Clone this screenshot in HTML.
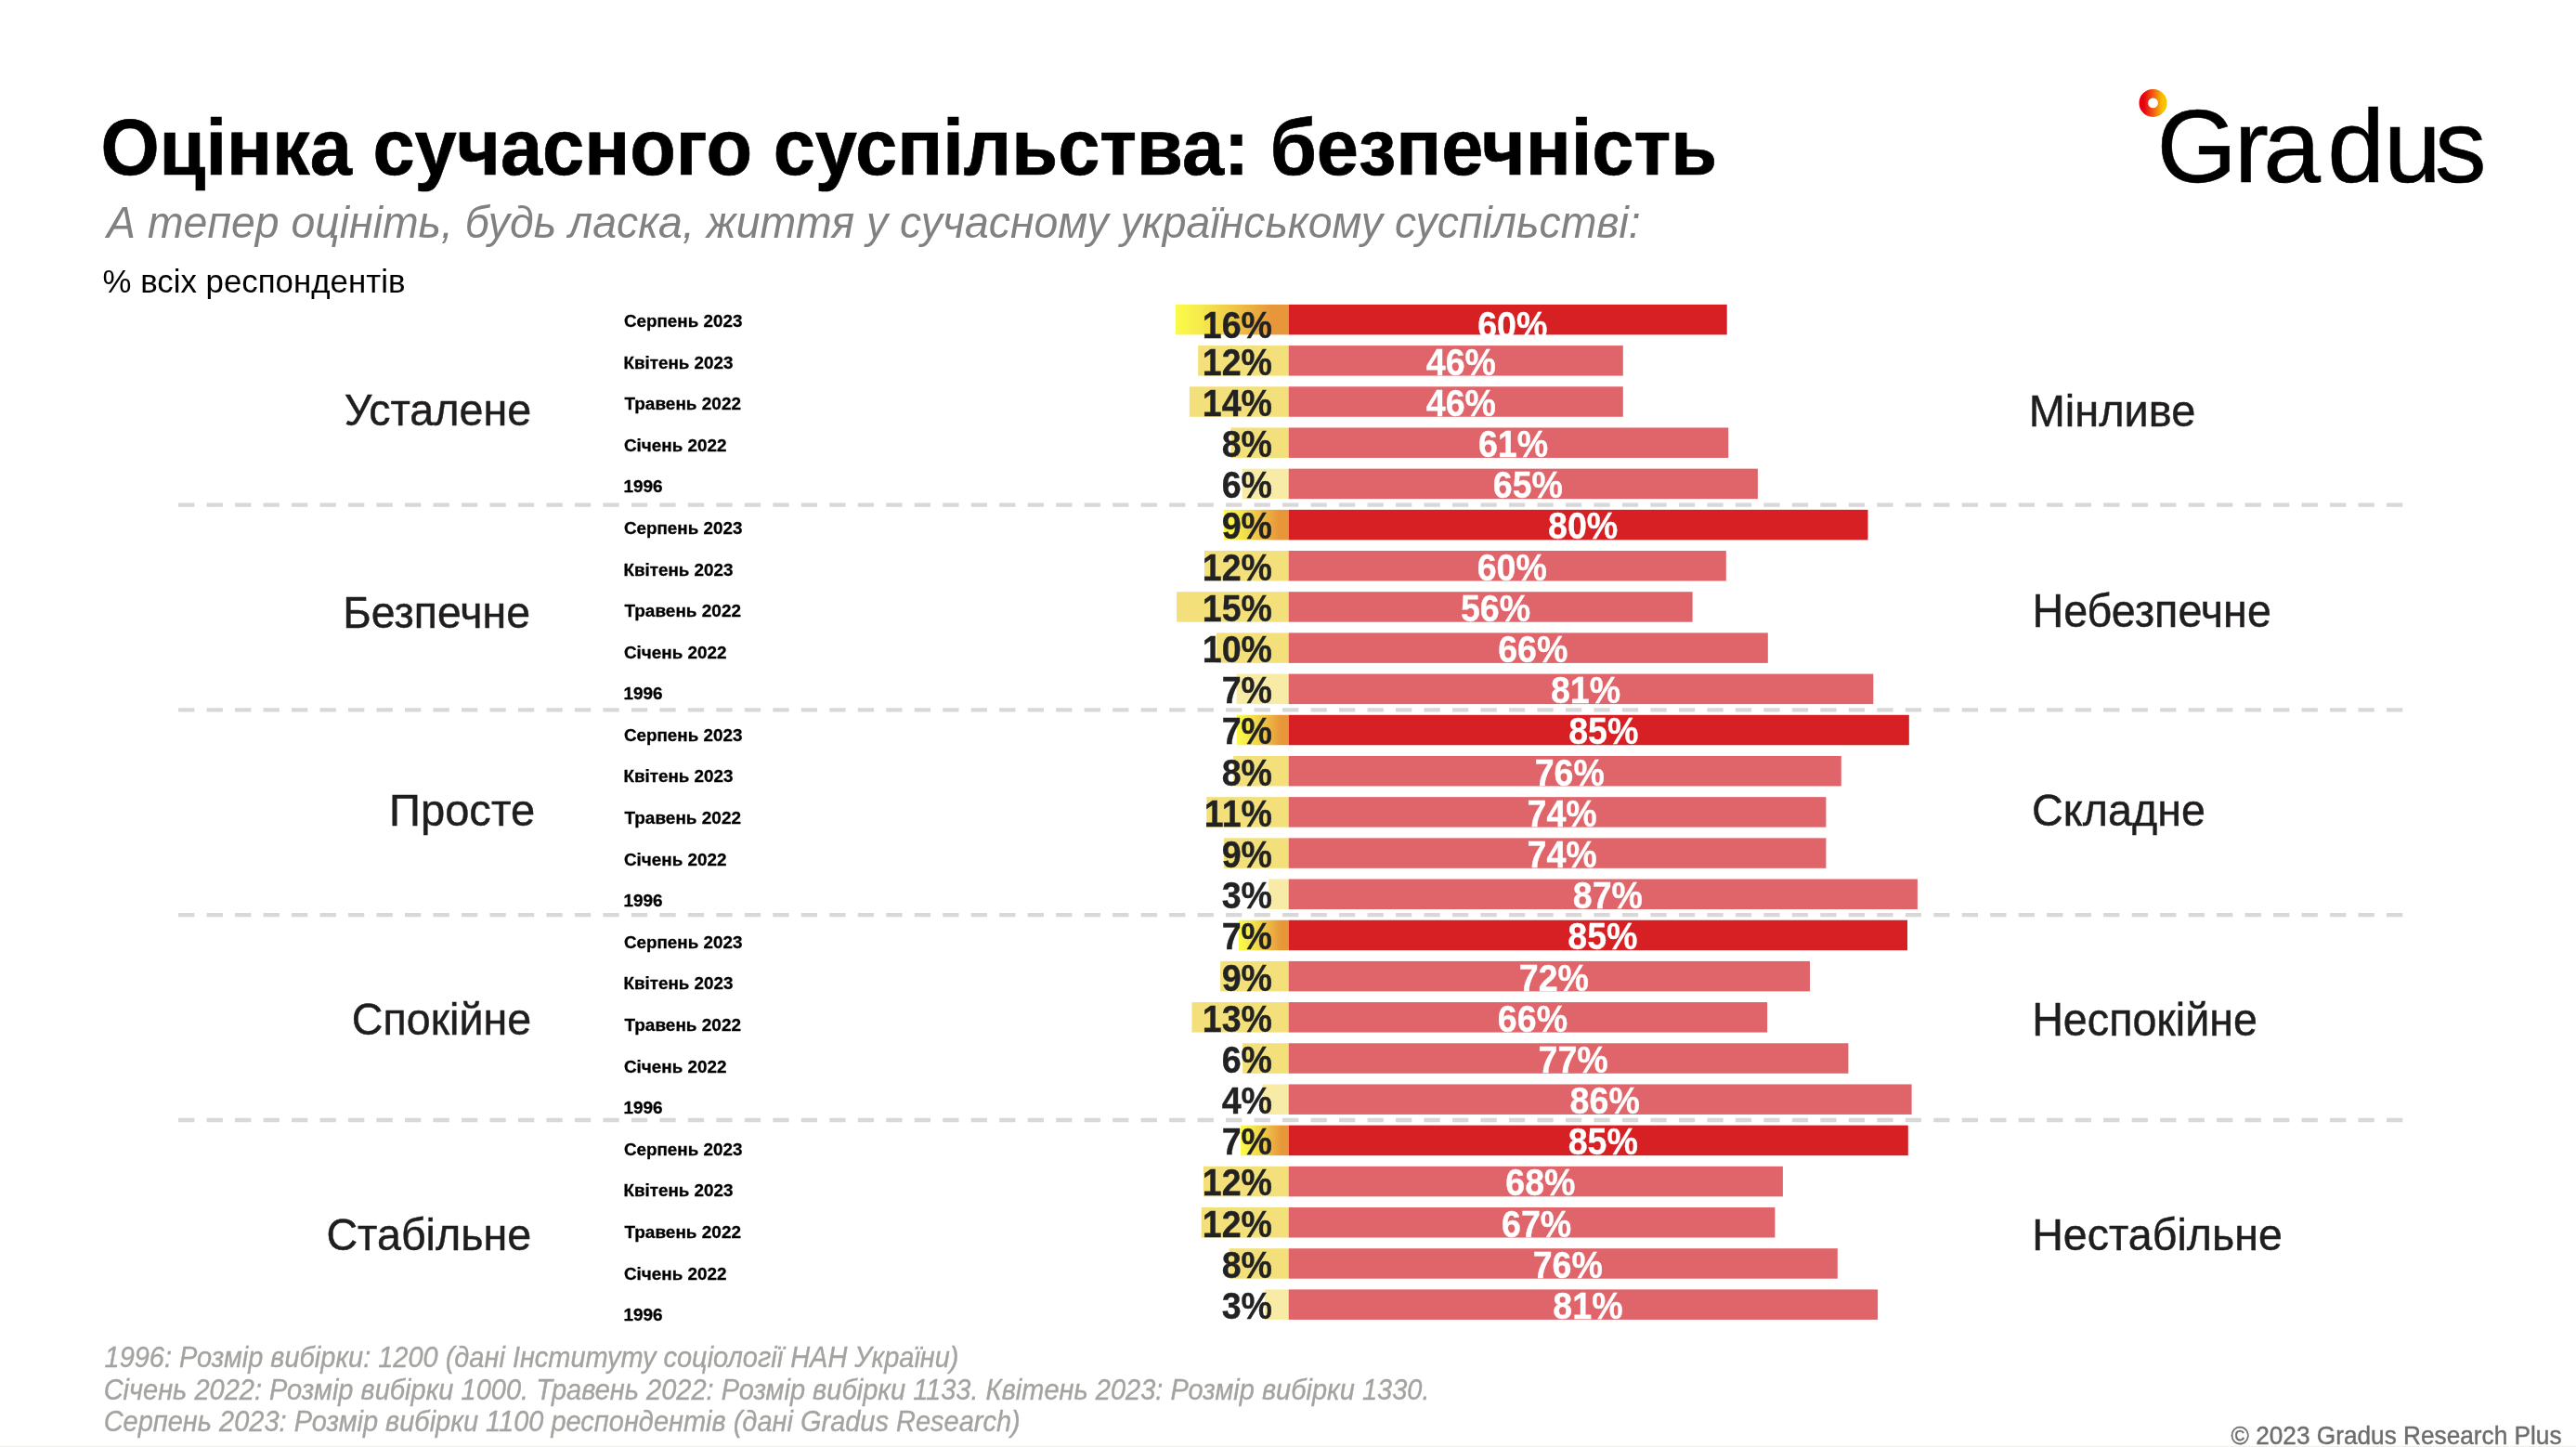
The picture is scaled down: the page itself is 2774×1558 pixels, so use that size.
<!DOCTYPE html>
<html lang="uk"><head><meta charset="utf-8"><title>Оцінка сучасного суспільства: безпечність</title>
<style>html,body{margin:0;padding:0;background:#fff;}body{width:2774px;height:1558px;overflow:hidden;}svg{display:block;will-change:transform;}</style>
</head><body>
<svg width="2774" height="1558" viewBox="0 0 2774 1558" font-family='"Liberation Sans", Arial, Helvetica, sans-serif'>
<defs>
<linearGradient id="gy" x1="0" y1="0" x2="1" y2="0">
<stop offset="0" stop-color="#fbfb4a"/><stop offset="0.2" stop-color="#f6ec4c"/><stop offset="0.5" stop-color="#efc847"/><stop offset="0.85" stop-color="#e8963a"/><stop offset="1" stop-color="#e8963a"/>
</linearGradient>
<linearGradient id="gl" x1="0" y1="0" x2="1" y2="0">
<stop offset="0" stop-color="#e8000f"/><stop offset="0.5" stop-color="#ef5a14"/><stop offset="1" stop-color="#f8c300"/>
</linearGradient>
</defs>
<rect x="0" y="0" width="2774" height="1558" fill="#fff"/>
<text transform="translate(108.46 188.30) scale(0.9597 1)" fill="#000" font-size="84.6" font-weight="bold" stroke="#000" stroke-width="0.7">Оцінка сучасного суспільства: безпечність</text>
<text transform="translate(115.10 255.60) scale(0.9512 1)" fill="#818181" font-size="48.8" font-style="italic">А тепер оцініть, будь ласка, життя у сучасному українському суспільстві:</text>
<text transform="translate(110.51 314.70) scale(0.9791 1)" fill="#000" font-size="35.6">% всіх респондентів</text>
<circle cx="2318.5" cy="110.9" r="10.2" fill="none" stroke="url(#gl)" stroke-width="9.6"/>
<text x="2322.62 2406.02 2437.15 2506.22 2566.88 2621.92" y="195.9" font-size="111" fill="#000" stroke="#000" stroke-width="0.6">Gradus</text>

<line x1="192.1" y1="543.6" x2="2587.4" y2="543.6" stroke="#d8d8d8" stroke-width="4.3" stroke-dasharray="17.3 13.186"/>
<line x1="192.1" y1="764.3" x2="2587.4" y2="764.3" stroke="#d8d8d8" stroke-width="4.3" stroke-dasharray="17.3 13.186"/>
<line x1="192.1" y1="985.1" x2="2587.4" y2="985.1" stroke="#d8d8d8" stroke-width="4.3" stroke-dasharray="17.3 13.186"/>
<line x1="192.1" y1="1206" x2="2587.4" y2="1206" stroke="#d8d8d8" stroke-width="4.3" stroke-dasharray="17.3 13.186"/>
<rect x="1266.0" y="327.90" width="121.7" height="32.5" fill="url(#gy)"/>
<rect x="1387.7" y="327.90" width="472.0" height="32.5" fill="#d72024"/>
<text transform="translate(1294.79 363.80) scale(0.9260 1)" fill="#222" font-size="40.6" font-weight="bold" stroke="#222" stroke-width="0.35">16%</text>
<text transform="translate(1591.16 363.80) scale(0.9260 1)" fill="#fff" font-size="40.6" font-weight="bold" stroke="#fff" stroke-width="0.35">60%</text>
<text transform="translate(671.91 352.00) scale(0.9916 1)" fill="#000" font-size="19.0" font-weight="bold" stroke="#000" stroke-width="0.3">Серпень 2023</text>
<rect x="1290.1" y="372.09" width="97.6" height="32.5" fill="#f3e07b"/>
<rect x="1387.7" y="372.09" width="360.1" height="32.5" fill="#e0656b"/>
<text transform="translate(1294.79 403.69) scale(0.9260 1)" fill="#222" font-size="40.6" font-weight="bold" stroke="#222" stroke-width="0.35">12%</text>
<text transform="translate(1535.79 403.69) scale(0.9260 1)" fill="#fff" font-size="40.6" font-weight="bold" stroke="#fff" stroke-width="0.35">46%</text>
<text transform="translate(671.41 396.59) scale(0.9926 1)" fill="#000" font-size="19.0" font-weight="bold" stroke="#000" stroke-width="0.3">Квітень 2023</text>
<rect x="1280.9" y="416.27" width="106.8" height="32.5" fill="#f3e07b"/>
<rect x="1387.7" y="416.27" width="360.1" height="32.5" fill="#e0656b"/>
<text transform="translate(1294.79 447.88) scale(0.9260 1)" fill="#222" font-size="40.6" font-weight="bold" stroke="#222" stroke-width="0.35">14%</text>
<text transform="translate(1535.79 447.88) scale(0.9260 1)" fill="#fff" font-size="40.6" font-weight="bold" stroke="#fff" stroke-width="0.35">46%</text>
<text transform="translate(672.40 441.18) scale(0.9993 1)" fill="#000" font-size="19.0" font-weight="bold" stroke="#000" stroke-width="0.3">Травень 2022</text>
<rect x="1325.5" y="460.46" width="62.2" height="32.5" fill="#f3e07b"/>
<rect x="1387.7" y="460.46" width="473.5" height="32.5" fill="#e0656b"/>
<text transform="translate(1315.69 492.06) scale(0.9260 1)" fill="#222" font-size="40.6" font-weight="bold" stroke="#222" stroke-width="0.35">8%</text>
<text transform="translate(1591.91 492.06) scale(0.9260 1)" fill="#fff" font-size="40.6" font-weight="bold" stroke="#fff" stroke-width="0.35">61%</text>
<text transform="translate(671.90 485.77) scale(0.9942 1)" fill="#000" font-size="19.0" font-weight="bold" stroke="#000" stroke-width="0.3">Січень 2022</text>
<rect x="1337.7" y="504.65" width="50.0" height="32.5" fill="#f8eba6"/>
<rect x="1387.7" y="504.65" width="505.2" height="32.5" fill="#e0656b"/>
<text transform="translate(1315.69 536.25) scale(0.9260 1)" fill="#222" font-size="40.6" font-weight="bold" stroke="#222" stroke-width="0.35">6%</text>
<text transform="translate(1607.76 536.25) scale(0.9260 1)" fill="#fff" font-size="40.6" font-weight="bold" stroke="#fff" stroke-width="0.35">65%</text>
<text transform="translate(671.50 530.36) scale(0.9975 1)" fill="#000" font-size="19.0" font-weight="bold" stroke="#000" stroke-width="0.3">1996</text>
<text transform="translate(370.67 458.20) scale(0.9521 1)" fill="#1f1d1d" font-size="49.0" stroke="#1f1d1d" stroke-width="0.45">Усталене</text>
<text transform="translate(2184.73 458.70) scale(0.9585 1)" fill="#1f1d1d" font-size="49.0" stroke="#1f1d1d" stroke-width="0.45">Мінливе</text>
<rect x="1317.9" y="548.84" width="69.8" height="32.5" fill="url(#gy)"/>
<rect x="1387.7" y="548.84" width="623.8" height="32.5" fill="#d72024"/>
<text transform="translate(1315.69 580.44) scale(0.9260 1)" fill="#222" font-size="40.6" font-weight="bold" stroke="#222" stroke-width="0.35">9%</text>
<text transform="translate(1667.06 580.44) scale(0.9260 1)" fill="#fff" font-size="40.6" font-weight="bold" stroke="#fff" stroke-width="0.35">80%</text>
<text transform="translate(671.91 574.95) scale(0.9916 1)" fill="#000" font-size="19.0" font-weight="bold" stroke="#000" stroke-width="0.3">Серпень 2023</text>
<rect x="1297.0" y="593.02" width="90.7" height="32.5" fill="#f3e07b"/>
<rect x="1387.7" y="593.02" width="471.1" height="32.5" fill="#e0656b"/>
<text transform="translate(1294.79 624.62) scale(0.9260 1)" fill="#222" font-size="40.6" font-weight="bold" stroke="#222" stroke-width="0.35">12%</text>
<text transform="translate(1590.71 624.62) scale(0.9260 1)" fill="#fff" font-size="40.6" font-weight="bold" stroke="#fff" stroke-width="0.35">60%</text>
<text transform="translate(671.41 619.54) scale(0.9926 1)" fill="#000" font-size="19.0" font-weight="bold" stroke="#000" stroke-width="0.3">Квітень 2023</text>
<rect x="1267.1" y="637.21" width="120.6" height="32.5" fill="#f3e07b"/>
<rect x="1387.7" y="637.21" width="434.9" height="32.5" fill="#e0656b"/>
<text transform="translate(1294.79 668.81) scale(0.9260 1)" fill="#222" font-size="40.6" font-weight="bold" stroke="#222" stroke-width="0.35">15%</text>
<text transform="translate(1572.90 668.81) scale(0.9260 1)" fill="#fff" font-size="40.6" font-weight="bold" stroke="#fff" stroke-width="0.35">56%</text>
<text transform="translate(672.40 664.13) scale(0.9993 1)" fill="#000" font-size="19.0" font-weight="bold" stroke="#000" stroke-width="0.3">Травень 2022</text>
<rect x="1310.0" y="681.40" width="77.7" height="32.5" fill="#f3e07b"/>
<rect x="1387.7" y="681.40" width="516.1" height="32.5" fill="#e0656b"/>
<text transform="translate(1294.79 713.00) scale(0.9260 1)" fill="#222" font-size="40.6" font-weight="bold" stroke="#222" stroke-width="0.35">10%</text>
<text transform="translate(1613.21 713.00) scale(0.9260 1)" fill="#fff" font-size="40.6" font-weight="bold" stroke="#fff" stroke-width="0.35">66%</text>
<text transform="translate(671.90 708.72) scale(0.9942 1)" fill="#000" font-size="19.0" font-weight="bold" stroke="#000" stroke-width="0.3">Січень 2022</text>
<rect x="1331.6" y="725.59" width="56.1" height="32.5" fill="#f8eba6"/>
<rect x="1387.7" y="725.59" width="629.6" height="32.5" fill="#e0656b"/>
<text transform="translate(1315.69 757.19) scale(0.9260 1)" fill="#222" font-size="40.6" font-weight="bold" stroke="#222" stroke-width="0.35">7%</text>
<text transform="translate(1669.96 757.19) scale(0.9260 1)" fill="#fff" font-size="40.6" font-weight="bold" stroke="#fff" stroke-width="0.35">81%</text>
<text transform="translate(671.50 753.31) scale(0.9975 1)" fill="#000" font-size="19.0" font-weight="bold" stroke="#000" stroke-width="0.3">1996</text>
<text transform="translate(369.17 675.70) scale(0.9484 1)" fill="#1f1d1d" font-size="49.0" stroke="#1f1d1d" stroke-width="0.45">Безпечне</text>
<text transform="translate(2188.45 675.30) scale(0.9526 1)" fill="#1f1d1d" font-size="49.0" stroke="#1f1d1d" stroke-width="0.45">Небезпечне</text>
<rect x="1331.7" y="769.77" width="56.0" height="32.5" fill="url(#gy)"/>
<rect x="1387.7" y="769.77" width="668.1" height="32.5" fill="#d72024"/>
<text transform="translate(1315.69 801.38) scale(0.9260 1)" fill="#222" font-size="40.6" font-weight="bold" stroke="#222" stroke-width="0.35">7%</text>
<text transform="translate(1689.21 801.38) scale(0.9260 1)" fill="#fff" font-size="40.6" font-weight="bold" stroke="#fff" stroke-width="0.35">85%</text>
<text transform="translate(671.91 797.90) scale(0.9916 1)" fill="#000" font-size="19.0" font-weight="bold" stroke="#000" stroke-width="0.3">Серпень 2023</text>
<rect x="1328.2" y="813.96" width="59.5" height="32.5" fill="#f3e07b"/>
<rect x="1387.7" y="813.96" width="595.1" height="32.5" fill="#e0656b"/>
<text transform="translate(1315.69 845.56) scale(0.9260 1)" fill="#222" font-size="40.6" font-weight="bold" stroke="#222" stroke-width="0.35">8%</text>
<text transform="translate(1652.71 845.56) scale(0.9260 1)" fill="#fff" font-size="40.6" font-weight="bold" stroke="#fff" stroke-width="0.35">76%</text>
<text transform="translate(671.41 842.49) scale(0.9926 1)" fill="#000" font-size="19.0" font-weight="bold" stroke="#000" stroke-width="0.3">Квітень 2023</text>
<rect x="1299.3" y="858.15" width="88.4" height="32.5" fill="#f3e07b"/>
<rect x="1387.7" y="858.15" width="578.7" height="32.5" fill="#e0656b"/>
<text transform="translate(1296.86 889.75) scale(0.9260 1)" fill="#222" font-size="40.6" font-weight="bold" stroke="#222" stroke-width="0.35">11%</text>
<text transform="translate(1644.51 889.75) scale(0.9260 1)" fill="#fff" font-size="40.6" font-weight="bold" stroke="#fff" stroke-width="0.35">74%</text>
<text transform="translate(672.40 887.08) scale(0.9993 1)" fill="#000" font-size="19.0" font-weight="bold" stroke="#000" stroke-width="0.3">Травень 2022</text>
<rect x="1317.9" y="902.34" width="69.8" height="32.5" fill="#f3e07b"/>
<rect x="1387.7" y="902.34" width="578.7" height="32.5" fill="#e0656b"/>
<text transform="translate(1315.69 933.94) scale(0.9260 1)" fill="#222" font-size="40.6" font-weight="bold" stroke="#222" stroke-width="0.35">9%</text>
<text transform="translate(1644.51 933.94) scale(0.9260 1)" fill="#fff" font-size="40.6" font-weight="bold" stroke="#fff" stroke-width="0.35">74%</text>
<text transform="translate(671.90 931.67) scale(0.9942 1)" fill="#000" font-size="19.0" font-weight="bold" stroke="#000" stroke-width="0.3">Січень 2022</text>
<rect x="1366.2" y="946.52" width="21.5" height="32.5" fill="#f8eba6"/>
<rect x="1387.7" y="946.52" width="677.2" height="32.5" fill="#e0656b"/>
<text transform="translate(1315.69 978.12) scale(0.9260 1)" fill="#222" font-size="40.6" font-weight="bold" stroke="#222" stroke-width="0.35">3%</text>
<text transform="translate(1693.76 978.12) scale(0.9260 1)" fill="#fff" font-size="40.6" font-weight="bold" stroke="#fff" stroke-width="0.35">87%</text>
<text transform="translate(671.50 976.26) scale(0.9975 1)" fill="#000" font-size="19.0" font-weight="bold" stroke="#000" stroke-width="0.3">1996</text>
<text transform="translate(419.12 889.20) scale(0.9616 1)" fill="#1f1d1d" font-size="49.0" stroke="#1f1d1d" stroke-width="0.45">Просте</text>
<text transform="translate(2188.11 889.40) scale(0.9529 1)" fill="#1f1d1d" font-size="49.0" stroke="#1f1d1d" stroke-width="0.45">Складне</text>
<rect x="1334.0" y="990.71" width="53.7" height="32.5" fill="url(#gy)"/>
<rect x="1387.7" y="990.71" width="666.3" height="32.5" fill="#d72024"/>
<text transform="translate(1315.69 1022.31) scale(0.9260 1)" fill="#222" font-size="40.6" font-weight="bold" stroke="#222" stroke-width="0.35">7%</text>
<text transform="translate(1688.31 1022.31) scale(0.9260 1)" fill="#fff" font-size="40.6" font-weight="bold" stroke="#fff" stroke-width="0.35">85%</text>
<text transform="translate(671.91 1020.85) scale(0.9916 1)" fill="#000" font-size="19.0" font-weight="bold" stroke="#000" stroke-width="0.3">Серпень 2023</text>
<rect x="1314.1" y="1034.90" width="73.6" height="32.5" fill="#f3e07b"/>
<rect x="1387.7" y="1034.90" width="561.3" height="32.5" fill="#e0656b"/>
<text transform="translate(1315.69 1066.50) scale(0.9260 1)" fill="#222" font-size="40.6" font-weight="bold" stroke="#222" stroke-width="0.35">9%</text>
<text transform="translate(1635.81 1066.50) scale(0.9260 1)" fill="#fff" font-size="40.6" font-weight="bold" stroke="#fff" stroke-width="0.35">72%</text>
<text transform="translate(671.41 1065.44) scale(0.9926 1)" fill="#000" font-size="19.0" font-weight="bold" stroke="#000" stroke-width="0.3">Квітень 2023</text>
<rect x="1283.5" y="1079.09" width="104.2" height="32.5" fill="#f3e07b"/>
<rect x="1387.7" y="1079.09" width="515.4" height="32.5" fill="#e0656b"/>
<text transform="translate(1294.79 1110.69) scale(0.9260 1)" fill="#222" font-size="40.6" font-weight="bold" stroke="#222" stroke-width="0.35">13%</text>
<text transform="translate(1612.86 1110.69) scale(0.9260 1)" fill="#fff" font-size="40.6" font-weight="bold" stroke="#fff" stroke-width="0.35">66%</text>
<text transform="translate(672.40 1110.03) scale(0.9993 1)" fill="#000" font-size="19.0" font-weight="bold" stroke="#000" stroke-width="0.3">Травень 2022</text>
<rect x="1338.1" y="1123.28" width="49.6" height="32.5" fill="#f3e07b"/>
<rect x="1387.7" y="1123.28" width="602.7" height="32.5" fill="#e0656b"/>
<text transform="translate(1315.69 1154.88) scale(0.9260 1)" fill="#222" font-size="40.6" font-weight="bold" stroke="#222" stroke-width="0.35">6%</text>
<text transform="translate(1656.51 1154.88) scale(0.9260 1)" fill="#fff" font-size="40.6" font-weight="bold" stroke="#fff" stroke-width="0.35">77%</text>
<text transform="translate(671.90 1154.62) scale(0.9942 1)" fill="#000" font-size="19.0" font-weight="bold" stroke="#000" stroke-width="0.3">Січень 2022</text>
<rect x="1359.4" y="1167.46" width="28.3" height="32.5" fill="#f8eba6"/>
<rect x="1387.7" y="1167.46" width="670.9" height="32.5" fill="#e0656b"/>
<text transform="translate(1315.69 1199.06) scale(0.9260 1)" fill="#222" font-size="40.6" font-weight="bold" stroke="#222" stroke-width="0.35">4%</text>
<text transform="translate(1690.61 1199.06) scale(0.9260 1)" fill="#fff" font-size="40.6" font-weight="bold" stroke="#fff" stroke-width="0.35">86%</text>
<text transform="translate(671.50 1199.21) scale(0.9975 1)" fill="#000" font-size="19.0" font-weight="bold" stroke="#000" stroke-width="0.3">1996</text>
<text transform="translate(378.82 1113.80) scale(0.9513 1)" fill="#1f1d1d" font-size="49.0" stroke="#1f1d1d" stroke-width="0.45">Спокійне</text>
<text transform="translate(2188.15 1114.80) scale(0.9526 1)" fill="#1f1d1d" font-size="49.0" stroke="#1f1d1d" stroke-width="0.45">Неспокійне</text>
<rect x="1336.0" y="1211.65" width="51.7" height="32.5" fill="url(#gy)"/>
<rect x="1387.7" y="1211.65" width="667.1" height="32.5" fill="#d72024"/>
<text transform="translate(1315.69 1243.25) scale(0.9260 1)" fill="#222" font-size="40.6" font-weight="bold" stroke="#222" stroke-width="0.35">7%</text>
<text transform="translate(1688.71 1243.25) scale(0.9260 1)" fill="#fff" font-size="40.6" font-weight="bold" stroke="#fff" stroke-width="0.35">85%</text>
<text transform="translate(671.91 1243.80) scale(0.9916 1)" fill="#000" font-size="19.0" font-weight="bold" stroke="#000" stroke-width="0.3">Серпень 2023</text>
<rect x="1295.9" y="1255.84" width="91.8" height="32.5" fill="#f3e07b"/>
<rect x="1387.7" y="1255.84" width="532.2" height="32.5" fill="#e0656b"/>
<text transform="translate(1294.79 1287.44) scale(0.9260 1)" fill="#222" font-size="40.6" font-weight="bold" stroke="#222" stroke-width="0.35">12%</text>
<text transform="translate(1621.26 1287.44) scale(0.9260 1)" fill="#fff" font-size="40.6" font-weight="bold" stroke="#fff" stroke-width="0.35">68%</text>
<text transform="translate(671.41 1288.39) scale(0.9926 1)" fill="#000" font-size="19.0" font-weight="bold" stroke="#000" stroke-width="0.3">Квітень 2023</text>
<rect x="1293.7" y="1300.03" width="94.0" height="32.5" fill="#f3e07b"/>
<rect x="1387.7" y="1300.03" width="523.7" height="32.5" fill="#e0656b"/>
<text transform="translate(1294.79 1331.62) scale(0.9260 1)" fill="#222" font-size="40.6" font-weight="bold" stroke="#222" stroke-width="0.35">12%</text>
<text transform="translate(1617.01 1331.62) scale(0.9260 1)" fill="#fff" font-size="40.6" font-weight="bold" stroke="#fff" stroke-width="0.35">67%</text>
<text transform="translate(672.40 1332.98) scale(0.9993 1)" fill="#000" font-size="19.0" font-weight="bold" stroke="#000" stroke-width="0.3">Травень 2022</text>
<rect x="1323.7" y="1344.21" width="64.0" height="32.5" fill="#f3e07b"/>
<rect x="1387.7" y="1344.21" width="591.1" height="32.5" fill="#e0656b"/>
<text transform="translate(1315.69 1375.81) scale(0.9260 1)" fill="#222" font-size="40.6" font-weight="bold" stroke="#222" stroke-width="0.35">8%</text>
<text transform="translate(1650.71 1375.81) scale(0.9260 1)" fill="#fff" font-size="40.6" font-weight="bold" stroke="#fff" stroke-width="0.35">76%</text>
<text transform="translate(671.90 1377.57) scale(0.9942 1)" fill="#000" font-size="19.0" font-weight="bold" stroke="#000" stroke-width="0.3">Січень 2022</text>
<rect x="1362.0" y="1388.40" width="25.7" height="32.5" fill="#f8eba6"/>
<rect x="1387.7" y="1388.40" width="634.4" height="32.5" fill="#e0656b"/>
<text transform="translate(1315.69 1420.00) scale(0.9260 1)" fill="#222" font-size="40.6" font-weight="bold" stroke="#222" stroke-width="0.35">3%</text>
<text transform="translate(1672.36 1420.00) scale(0.9260 1)" fill="#fff" font-size="40.6" font-weight="bold" stroke="#fff" stroke-width="0.35">81%</text>
<text transform="translate(671.50 1422.16) scale(0.9975 1)" fill="#000" font-size="19.0" font-weight="bold" stroke="#000" stroke-width="0.3">1996</text>
<text transform="translate(351.41 1345.60) scale(0.9524 1)" fill="#1f1d1d" font-size="49.0" stroke="#1f1d1d" stroke-width="0.45">Стабільне</text>
<text transform="translate(2188.16 1346.10) scale(0.9509 1)" fill="#1f1d1d" font-size="49.0" stroke="#1f1d1d" stroke-width="0.45">Нестабільне</text>
<text transform="translate(112.55 1472.20) scale(0.9282 1)" fill="#a3a3a0" font-size="31.2" font-style="italic" stroke="#a3a3a0" stroke-width="0.35">1996: Розмір вибірки: 1200 (дані Інституту соціології НАН України)</text>
<text transform="translate(111.64 1507.00) scale(0.9299 1)" fill="#a3a3a0" font-size="31.2" font-style="italic" stroke="#a3a3a0" stroke-width="0.35">Січень 2022: Розмір вибірки 1000. Травень 2022: Розмір вибірки 1133. Квітень 2023: Розмір вибірки 1330.</text>
<text transform="translate(111.64 1541.10) scale(0.9290 1)" fill="#a3a3a0" font-size="31.2" font-style="italic" stroke="#a3a3a0" stroke-width="0.35">Серпень 2023: Розмір вибірки 1100 респондентів (дані Gradus Research)</text>
<text transform="translate(2402.60 1554.80) scale(0.9299 1)" fill="#6d6d6d" font-size="28.2" stroke="#6d6d6d" stroke-width="0.45">© 2023 Gradus Research Plus</text>
<rect x="0" y="1556.8" width="2774" height="1.2" fill="#efefee"/>
</svg>
</body></html>
